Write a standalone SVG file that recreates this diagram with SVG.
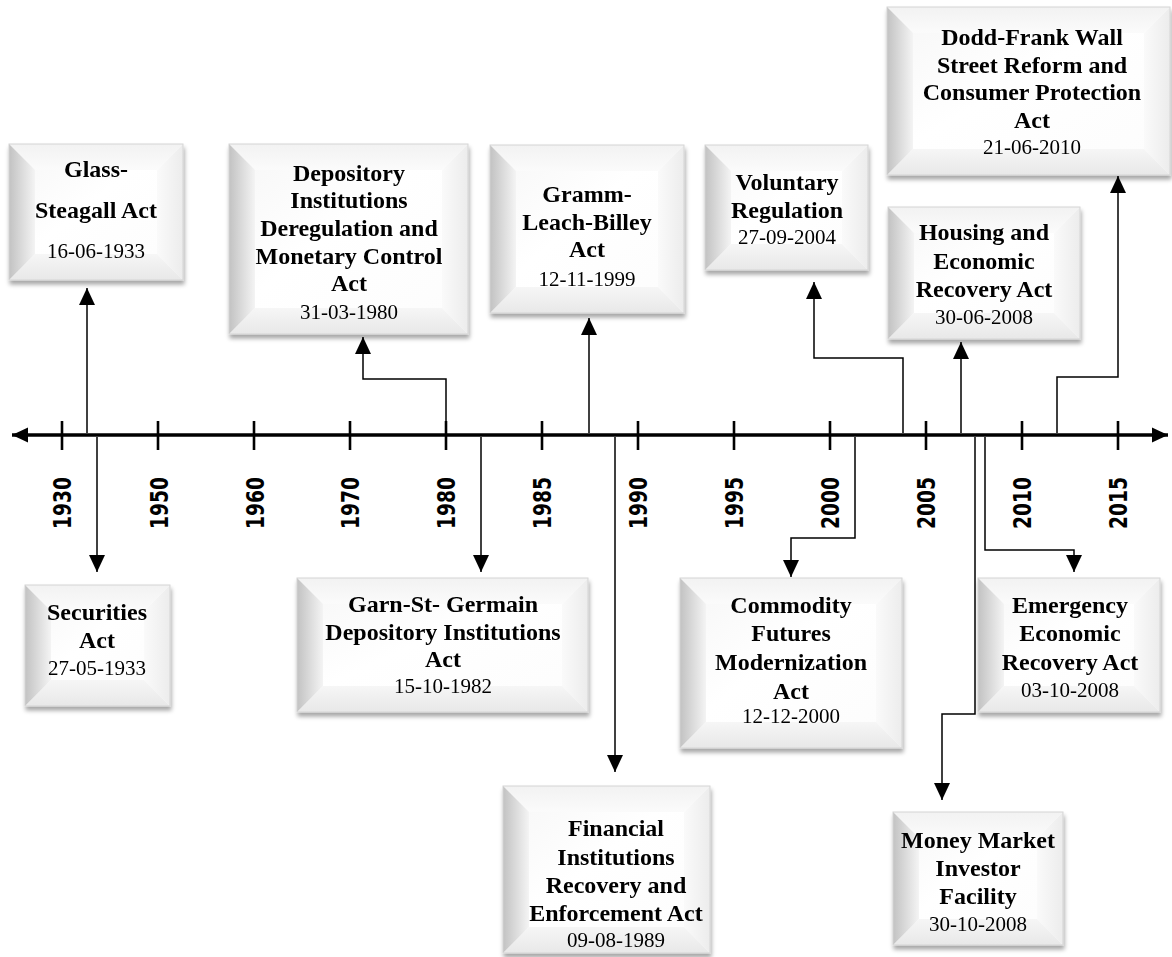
<svg xmlns="http://www.w3.org/2000/svg" width="1172" height="957" viewBox="0 0 1172 957">
  <defs>
    <style>
      .face { fill: url(#faceGrad); }
      .bl { fill: url(#leftGrad); }
      .bt { fill: url(#topGrad); }
      .bb { fill: url(#bottomGrad); }
      .br { fill: url(#rightGrad); }
      .edge { fill: none; stroke: #d4d4d4; stroke-width: 1; }
      .node { filter: url(#shadow); }
      .t { font-family: "Liberation Serif", "Times New Roman", serif; font-weight: bold; font-size: 24px; fill: #000; text-anchor: middle; }
      .d { font-family: "Liberation Serif", "Times New Roman", serif; font-size: 21px; fill: #000; text-anchor: middle; }
      .yr { font-family: "DejaVu Sans", "Liberation Sans", sans-serif; font-weight: bold; font-size: 24px; fill: #000; }
      .tick { stroke: #000; stroke-width: 2.6; }
      .axis { stroke: #000; stroke-width: 3.5; fill: none; }
      .conn { stroke: #000; stroke-width: 1.5; fill: none; marker-end: url(#arrow); }
    </style>
    <linearGradient id="faceGrad" x1="0" y1="0" x2="1" y2="1">
      <stop offset="0" stop-color="#f6f6f6"/>
      <stop offset="0.45" stop-color="#ffffff"/>
      <stop offset="1" stop-color="#fcfcfc"/>
    </linearGradient>
    <linearGradient id="leftGrad" x1="0" y1="0" x2="1" y2="0">
      <stop offset="0" stop-color="#c2c2c2"/>
      <stop offset="1" stop-color="#f4f4f4"/>
    </linearGradient>
    <linearGradient id="topGrad" x1="0" y1="0" x2="0" y2="1">
      <stop offset="0" stop-color="#f2f2f2"/>
      <stop offset="1" stop-color="#fbfbfb"/>
    </linearGradient>
    <linearGradient id="bottomGrad" x1="0" y1="0" x2="0" y2="1">
      <stop offset="0" stop-color="#f6f6f6"/>
      <stop offset="1" stop-color="#e8e8e8"/>
    </linearGradient>
    <linearGradient id="rightGrad" x1="0" y1="0" x2="1" y2="0">
      <stop offset="0" stop-color="#fafafa"/>
      <stop offset="1" stop-color="#ececec"/>
    </linearGradient>
    <filter id="shadow" x="-10%" y="-10%" width="125%" height="130%">
      <feDropShadow dx="1" dy="4" stdDeviation="2.2" flood-color="#000" flood-opacity="0.35"/>
    </filter>
    <marker id="arrow" markerUnits="userSpaceOnUse" markerWidth="18" markerHeight="18" viewBox="0 0 18 18" refX="17" refY="9" orient="auto">
      <path d="M0,1 L17,9 L0,17 Z" fill="#000"/>
    </marker>
    <marker id="axisArrow" markerUnits="userSpaceOnUse" markerWidth="18" markerHeight="18" viewBox="0 0 18 18" refX="16" refY="9" orient="auto-start-reverse">
      <path d="M0,1.5 L16,9 L0,16.5 Z" fill="#000"/>
    </marker>
  </defs>

  <!-- timeline axis -->
  <g id="axis">
    <path class="axis" d="M12,435 H1168" marker-start="url(#axisArrow)" marker-end="url(#axisArrow)"/>
    <g class="ticks">
      <line class="tick" x1="62" y1="421" x2="62" y2="450"/>
      <line class="tick" x1="158" y1="421" x2="158" y2="450"/>
      <line class="tick" x1="254" y1="421" x2="254" y2="450"/>
      <line class="tick" x1="350" y1="421" x2="350" y2="450"/>
      <line class="tick" x1="446" y1="421" x2="446" y2="450"/>
      <line class="tick" x1="542" y1="421" x2="542" y2="450"/>
      <line class="tick" x1="638" y1="421" x2="638" y2="450"/>
      <line class="tick" x1="734" y1="421" x2="734" y2="450"/>
      <line class="tick" x1="830" y1="421" x2="830" y2="450"/>
      <line class="tick" x1="926" y1="421" x2="926" y2="450"/>
      <line class="tick" x1="1022" y1="421" x2="1022" y2="450"/>
      <line class="tick" x1="1118" y1="421" x2="1118" y2="450"/>
    </g>
    <g class="years">
      <text class="yr" transform="translate(71,529) rotate(-90)" textLength="52" lengthAdjust="spacingAndGlyphs">1930</text>
      <text class="yr" transform="translate(168,529) rotate(-90)" textLength="52" lengthAdjust="spacingAndGlyphs">1950</text>
      <text class="yr" transform="translate(264,529) rotate(-90)" textLength="52" lengthAdjust="spacingAndGlyphs">1960</text>
      <text class="yr" transform="translate(359,529) rotate(-90)" textLength="52" lengthAdjust="spacingAndGlyphs">1970</text>
      <text class="yr" transform="translate(455,529) rotate(-90)" textLength="52" lengthAdjust="spacingAndGlyphs">1980</text>
      <text class="yr" transform="translate(551,529) rotate(-90)" textLength="52" lengthAdjust="spacingAndGlyphs">1985</text>
      <text class="yr" transform="translate(647,529) rotate(-90)" textLength="52" lengthAdjust="spacingAndGlyphs">1990</text>
      <text class="yr" transform="translate(743,529) rotate(-90)" textLength="52" lengthAdjust="spacingAndGlyphs">1995</text>
      <text class="yr" transform="translate(839,529) rotate(-90)" textLength="52" lengthAdjust="spacingAndGlyphs">2000</text>
      <text class="yr" transform="translate(935,529) rotate(-90)" textLength="52" lengthAdjust="spacingAndGlyphs">2005</text>
      <text class="yr" transform="translate(1031,529) rotate(-90)" textLength="52" lengthAdjust="spacingAndGlyphs">2010</text>
      <text class="yr" transform="translate(1127,529) rotate(-90)" textLength="52" lengthAdjust="spacingAndGlyphs">2015</text>
    </g>
  </g>

  <!-- connectors from the axis to each event box -->
  <g id="connectors">
    <path class="conn" d="M87,433 V288"/>
    <path class="conn" d="M97,437 V572"/>
    <path class="conn" d="M446,433 V379 H363 V337"/>
    <path class="conn" d="M481,437 V572"/>
    <path class="conn" d="M589,433 V318"/>
    <path class="conn" d="M615,437 V772"/>
    <path class="conn" d="M855,437 V538 H791 V577"/>
    <path class="conn" d="M903,433 V358 H814 V282"/>
    <path class="conn" d="M961,433 V342"/>
    <path class="conn" d="M975,437 V714 H942 V800"/>
    <path class="conn" d="M985,437 V550 H1074 V572"/>
    <path class="conn" d="M1057,433 V377 H1118 V176"/>
  </g>

  <!-- Glass-Steagall Act: x9 y144 w174 h136 -->
  <g id="glass-steagall" class="node">
    <rect class="face" x="9" y="144" width="174" height="136"/>
    <polygon class="bt" points="9,144 183,144 157,170 35,170"/>
    <polygon class="br" points="183,144 183,280 157,254 157,170"/>
    <polygon class="bb" points="9,280 35,254 157,254 183,280"/>
    <polygon class="bl" points="9,144 35,170 35,254 9,280"/>
    <rect class="edge" x="9" y="144" width="174" height="136"/>
    <text class="t" x="96" y="177">Glass-</text>
    <text class="t" x="96" y="218">Steagall Act</text>
    <text class="d" x="96" y="258">16-06-1933</text>
  </g>

  <!-- Securities Act: x25 y585 w145 h121 -->
  <g id="securities" class="node">
    <rect class="face" x="25" y="585" width="145" height="121"/>
    <polygon class="bt" points="25,585 170,585 144,611 51,611"/>
    <polygon class="br" points="170,585 170,706 144,680 144,611"/>
    <polygon class="bb" points="25,706 51,680 144,680 170,706"/>
    <polygon class="bl" points="25,585 51,611 51,680 25,706"/>
    <rect class="edge" x="25" y="585" width="145" height="121"/>
    <text class="t" x="97" y="620">Securities</text>
    <text class="t" x="97" y="648">Act</text>
    <text class="d" x="97" y="675">27-05-1933</text>
  </g>

  <!-- Depository Institutions Deregulation and Monetary Control Act: x229 y144 w239 h190 -->
  <g id="didmca" class="node">
    <rect class="face" x="229" y="144" width="239" height="190"/>
    <polygon class="bt" points="229,144 468,144 442,170 255,170"/>
    <polygon class="br" points="468,144 468,334 442,308 442,170"/>
    <polygon class="bb" points="229,334 255,308 442,308 468,334"/>
    <polygon class="bl" points="229,144 255,170 255,308 229,334"/>
    <rect class="edge" x="229" y="144" width="239" height="190"/>
    <text class="t" x="349" y="181">Depository</text>
    <text class="t" x="349" y="208">Institutions</text>
    <text class="t" x="349" y="236">Deregulation and</text>
    <text class="t" x="349" y="264">Monetary Control</text>
    <text class="t" x="349" y="291">Act</text>
    <text class="d" x="349" y="319">31-03-1980</text>
  </g>

  <!-- Gramm-Leach-Billey Act: x490 y145 w194 h168 -->
  <g id="gramm-leach-billey" class="node">
    <rect class="face" x="490" y="145" width="194" height="168"/>
    <polygon class="bt" points="490,145 684,145 658,171 516,171"/>
    <polygon class="br" points="684,145 684,313 658,287 658,171"/>
    <polygon class="bb" points="490,313 516,287 658,287 684,313"/>
    <polygon class="bl" points="490,145 516,171 516,287 490,313"/>
    <rect class="edge" x="490" y="145" width="194" height="168"/>
    <text class="t" x="587" y="202">Gramm-</text>
    <text class="t" x="587" y="230">Leach-Billey</text>
    <text class="t" x="587" y="257">Act</text>
    <text class="d" x="587" y="286">12-11-1999</text>
  </g>

  <!-- Voluntary Regulation: x705 y145 w163 h125 -->
  <g id="voluntary-regulation" class="node">
    <rect class="face" x="705" y="145" width="163" height="125"/>
    <polygon class="bt" points="705,145 868,145 842,171 731,171"/>
    <polygon class="br" points="868,145 868,270 842,244 842,171"/>
    <polygon class="bb" points="705,270 731,244 842,244 868,270"/>
    <polygon class="bl" points="705,145 731,171 731,244 705,270"/>
    <rect class="edge" x="705" y="145" width="163" height="125"/>
    <text class="t" x="787" y="190">Voluntary</text>
    <text class="t" x="787" y="218">Regulation</text>
    <text class="d" x="787" y="244">27-09-2004</text>
  </g>

  <!-- Housing and Economic Recovery Act: x888 y207 w192 h132 -->
  <g id="housing-recovery" class="node">
    <rect class="face" x="888" y="207" width="192" height="132"/>
    <polygon class="bt" points="888,207 1080,207 1054,233 914,233"/>
    <polygon class="br" points="1080,207 1080,339 1054,313 1054,233"/>
    <polygon class="bb" points="888,339 914,313 1054,313 1080,339"/>
    <polygon class="bl" points="888,207 914,233 914,313 888,339"/>
    <rect class="edge" x="888" y="207" width="192" height="132"/>
    <text class="t" x="984" y="240">Housing and</text>
    <text class="t" x="984" y="269">Economic</text>
    <text class="t" x="984" y="297">Recovery Act</text>
    <text class="d" x="984" y="324">30-06-2008</text>
  </g>

  <!-- Dodd-Frank Act: x887 y7 w283 h168 -->
  <g id="dodd-frank" class="node">
    <rect class="face" x="887" y="7" width="283" height="168"/>
    <polygon class="bt" points="887,7 1170,7 1144,33 913,33"/>
    <polygon class="br" points="1170,7 1170,175 1144,149 1144,33"/>
    <polygon class="bb" points="887,175 913,149 1144,149 1170,175"/>
    <polygon class="bl" points="887,7 913,33 913,149 887,175"/>
    <rect class="edge" x="887" y="7" width="283" height="168"/>
    <text class="t" x="1032" y="45">Dodd-Frank Wall</text>
    <text class="t" x="1032" y="73">Street Reform and</text>
    <text class="t" x="1032" y="100">Consumer Protection</text>
    <text class="t" x="1032" y="128">Act</text>
    <text class="d" x="1032" y="154">21-06-2010</text>
  </g>

  <!-- Garn-St Germain Act: x297 y578 w291 h134 -->
  <g id="garn-st-germain" class="node">
    <rect class="face" x="297" y="578" width="291" height="134"/>
    <polygon class="bt" points="297,578 588,578 562,604 323,604"/>
    <polygon class="br" points="588,578 588,712 562,686 562,604"/>
    <polygon class="bb" points="297,712 323,686 562,686 588,712"/>
    <polygon class="bl" points="297,578 323,604 323,686 297,712"/>
    <rect class="edge" x="297" y="578" width="291" height="134"/>
    <text class="t" x="443" y="612">Garn-St- Germain</text>
    <text class="t" x="443" y="640">Depository Institutions</text>
    <text class="t" x="443" y="667">Act</text>
    <text class="d" x="443" y="693">15-10-1982</text>
  </g>

  <!-- Commodity Futures Modernization Act: x680 y578 w222 h170 -->
  <g id="commodity-futures" class="node">
    <rect class="face" x="680" y="578" width="222" height="170"/>
    <polygon class="bt" points="680,578 902,578 876,604 706,604"/>
    <polygon class="br" points="902,578 902,748 876,722 876,604"/>
    <polygon class="bb" points="680,748 706,722 876,722 902,748"/>
    <polygon class="bl" points="680,578 706,604 706,722 680,748"/>
    <rect class="edge" x="680" y="578" width="222" height="170"/>
    <text class="t" x="791" y="613">Commodity</text>
    <text class="t" x="791" y="641">Futures</text>
    <text class="t" x="791" y="670">Modernization</text>
    <text class="t" x="791" y="699">Act</text>
    <text class="d" x="791" y="723">12-12-2000</text>
  </g>

  <!-- Emergency Economic Recovery Act: x978 y578 w182 h134 -->
  <g id="emergency-recovery" class="node">
    <rect class="face" x="978" y="578" width="182" height="134"/>
    <polygon class="bt" points="978,578 1160,578 1134,604 1004,604"/>
    <polygon class="br" points="1160,578 1160,712 1134,686 1134,604"/>
    <polygon class="bb" points="978,712 1004,686 1134,686 1160,712"/>
    <polygon class="bl" points="978,578 1004,604 1004,686 978,712"/>
    <rect class="edge" x="978" y="578" width="182" height="134"/>
    <text class="t" x="1070" y="613">Emergency</text>
    <text class="t" x="1070" y="641">Economic</text>
    <text class="t" x="1070" y="670">Recovery Act</text>
    <text class="d" x="1070" y="697">03-10-2008</text>
  </g>

  <!-- Financial Institutions Recovery and Enforcement Act: x503 y786 w207 h167 -->
  <g id="firrea" class="node">
    <rect class="face" x="503" y="786" width="207" height="167"/>
    <polygon class="bt" points="503,786 710,786 684,812 529,812"/>
    <polygon class="br" points="710,786 710,953 684,927 684,812"/>
    <polygon class="bb" points="503,953 529,927 684,927 710,953"/>
    <polygon class="bl" points="503,786 529,812 529,927 503,953"/>
    <rect class="edge" x="503" y="786" width="207" height="167"/>
    <text class="t" x="616" y="836">Financial</text>
    <text class="t" x="616" y="865">Institutions</text>
    <text class="t" x="616" y="893">Recovery and</text>
    <text class="t" x="616" y="921">Enforcement Act</text>
    <text class="d" x="616" y="947">09-08-1989</text>
  </g>

  <!-- Money Market Investor Facility: x893 y812 w170 h133 -->
  <g id="money-market" class="node">
    <rect class="face" x="893" y="812" width="170" height="133"/>
    <polygon class="bt" points="893,812 1063,812 1037,838 919,838"/>
    <polygon class="br" points="1063,812 1063,945 1037,919 1037,838"/>
    <polygon class="bb" points="893,945 919,919 1037,919 1063,945"/>
    <polygon class="bl" points="893,812 919,838 919,919 893,945"/>
    <rect class="edge" x="893" y="812" width="170" height="133"/>
    <text class="t" x="978" y="848">Money Market</text>
    <text class="t" x="978" y="876">Investor</text>
    <text class="t" x="978" y="904">Facility</text>
    <text class="d" x="978" y="931">30-10-2008</text>
  </g>
</svg>
